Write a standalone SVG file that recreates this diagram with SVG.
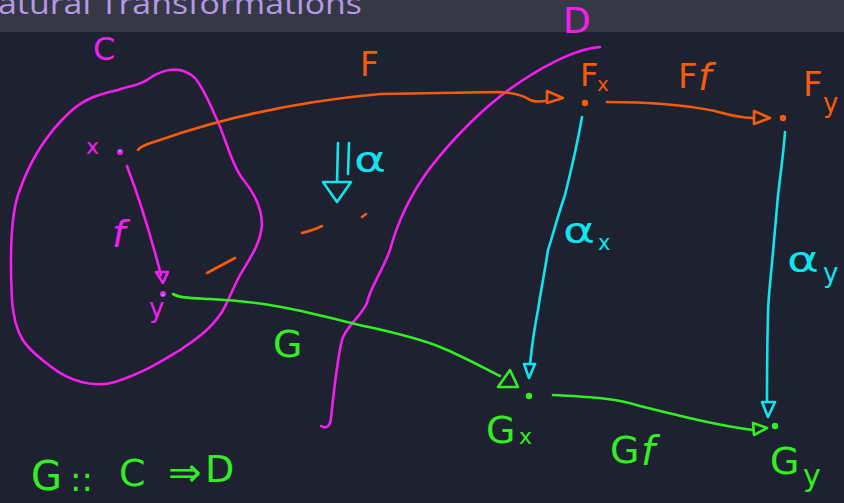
<svg xmlns="http://www.w3.org/2000/svg" width="844" height="503" viewBox="0 0 844 503">
<defs>
<style>
.ln{fill:none;stroke-width:2.6;stroke-linecap:round;stroke-linejoin:round}
.mg{stroke:#f51ef0}.or{stroke:#f65b0a}.cy{stroke:#10e4ee}.gr{stroke:#33ee22}
.hd{fill:none;stroke-width:2.6;stroke-linejoin:round}
.t{font-family:"DejaVu Sans","Liberation Sans",sans-serif}
.tm{fill:#f51ef0}.to{fill:#f65b0a}.tc{fill:#10e4ee}.tg{fill:#33ee22}
</style>
</defs>
<rect width="844" height="503" fill="#1e2130"/>
<rect width="844" height="32" fill="#363845"/>
<text x="-2" y="14" font-family="'Open Sans','DejaVu Sans',sans-serif" font-size="29" fill="#b49ae6" textLength="364" lengthAdjust="spacingAndGlyphs">atural Transformations</text>

<g id="catC">
<path class="ln mg" d="M118,90 C128,86 140,86 150,78 C162,70 180,64 195,78 C205,90 210,105 218,122 C226,140 232,165 242,178 C252,190 262,205 262,225 C260,245 250,258 240,275 C232,290 228,302 222,312 C210,330 195,340 180,350 C160,362 145,372 115,382 C95,388 70,382 50,366 C30,350 15,342 12,300 C10,260 10,220 18,195 C28,165 45,135 70,112 C85,98 100,94 118,90 Z"/>
<text class="t tm" x="93" y="60" font-size="32">C</text>
</g>

<g id="catD">
<path class="ln mg" d="M600,47 C580,48 550,62 520,82 C490,102 460,130 430,168 C410,195 398,220 390,250 C382,272 370,288 367,303 C360,318 346,326 342,340 C337,360 334,390 331,418 C330,427 326,429 321,426"/>
<text class="t tm" x="563" y="33" font-size="36">D</text>
</g>

<g id="nx">
<circle cx="120" cy="152" r="3" fill="#f51ef0"/>
<circle cx="120" cy="151" r="1.2" fill="#10e4ee"/>
<text class="t tm" x="86" y="154" font-size="22">x</text>
</g>
<g id="ny">
<circle cx="163" cy="294" r="3" fill="#f51ef0"/>
<circle cx="163" cy="295" r="1.2" fill="#10e4ee"/>
<text class="t tm" x="149" y="317" font-size="26">y</text>
</g>
<g id="nFx">
<circle cx="585" cy="103" r="3.2" fill="#f65b0a"/>
<text class="t to" x="580" y="86" font-size="32">F</text>
<text class="t to" x="597" y="91" font-size="20">x</text>
</g>
<g id="nFy">
<circle cx="783" cy="118" r="3.2" fill="#f65b0a"/>
<text class="t to" x="803" y="96" font-size="34">F</text>
<text class="t to" x="823" y="112" font-size="26">y</text>
</g>
<g id="nGx">
<circle cx="529" cy="396" r="3.2" fill="#33ee22"/>
<text class="t tg" x="486" y="443" font-size="38">G</text>
<text class="t tg" x="519" y="444" font-size="22">x</text>
</g>
<g id="nGy">
<circle cx="775" cy="426" r="3.2" fill="#33ee22"/>
<text class="t tg" x="770" y="474" font-size="38">G</text>
<text class="t tg" x="803" y="486" font-size="30">y</text>
</g>

<g id="connectors">
<!-- f -->
<path class="ln mg" d="M127,166 C138,195 148,225 161,275"/>
<path class="hd mg" d="M156,272 L168,272 L163,283 Z"/>
<text class="t tm" x="112" y="247" font-size="38" font-style="italic">f</text>
<!-- F -->
<path class="ln or" d="M138,150 C140,146 150,143 160,140 C200,126 270,104 380,94 L500,92 C515,93 525,96 530,100 C537,103 542,101 546,101"/>
<path class="hd or" d="M547,91 L563,98 L547,103 Z"/>
<text class="t to" x="360" y="76" font-size="33">F</text>
<!-- Ff -->
<path class="ln or" d="M607,102 C640,102 680,104 715,111 C730,115 740,118 754,118"/>
<path class="hd or" d="M754,111 L770,118 L754,124 Z"/>
<text class="t to" x="678" y="88" font-size="34">F</text>
<text class="t to" x="698" y="90" font-size="38" font-style="italic">f</text>
<!-- G -->
<path class="ln gr" d="M173,294 C180,298 190,298 210,299 C260,301 300,310 347,322 C380,330 410,335 440,347 C460,355 480,366 500,376"/>
<path class="hd gr" d="M498,387 L518,387 L510,370 Z"/>
<text class="t tg" x="273" y="357" font-size="38">G</text>
<!-- Gf -->
<path class="ln gr" d="M553,395 C590,397 615,398 640,406 C680,416 720,426 753,430"/>
<path class="hd gr" d="M753,423 L767,428 L754,435 Z"/>
<text class="t tg" x="610" y="463" font-size="38">G</text>
<text class="t tg" x="641" y="465" font-size="40" font-style="italic">f</text>
<!-- alpha_x -->
<path class="ln cy" d="M582,117 C578,140 570,175 565,195 C558,215 553,235 548,250 C545,270 541,290 538,310 C534,330 532,345 530,364"/>
<path class="hd cy" d="M524,364 L535,364 L529,378 Z"/>
<text class="t tc" x="0" y="0" font-size="36" transform="translate(563,243) scale(1.35,1)">α</text>
<text class="t tc" x="598" y="250" font-size="21">x</text>
<!-- alpha_y -->
<path class="ln cy" d="M785,132 C783,160 778,190 777,207 C775,230 773,250 772,263 C770,285 768,300 768,315 C767,350 767,380 767,402"/>
<path class="hd cy" d="M762,402 L775,402 L768,417 Z"/>
<text class="t tc" x="0" y="0" font-size="36" transform="translate(787,272) scale(1.35,1)">α</text>
<text class="t tc" x="823" y="282" font-size="26">y</text>
<!-- natural transformation double arrow -->
<path class="ln cy" d="M338,143 L337,182 M349,143 L348,174"/>
<path class="hd cy" d="M323,182 L351,182 L337,202 Z"/>
<text class="t tc" x="0" y="0" font-size="36" transform="translate(354,172) scale(1.35,1)">α</text>
<!-- dashed orange trace -->
<path class="ln or" d="M207,273 L235,258 M302,233 C310,231 316,229 322,226 M362,217 L366,214"/>
</g>

<g id="sig">
<text class="t tg" x="31" y="490" font-size="40">G</text>
<text class="t tg" x="70" y="491" font-size="34">::</text>
<text class="t tg" x="119" y="486" font-size="38">C</text>
<text class="t tg" x="168" y="486" font-size="40">⇒</text>
<text class="t tg" x="205" y="482" font-size="38">D</text>
</g>
</svg>
